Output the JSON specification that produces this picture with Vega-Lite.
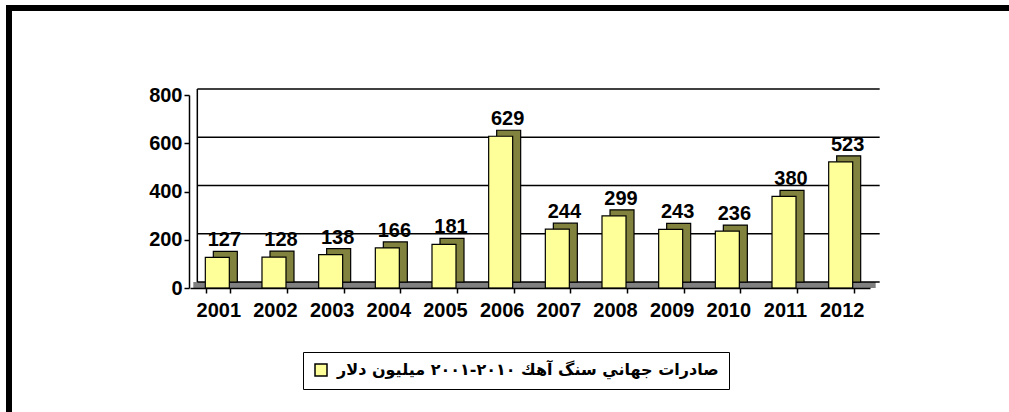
{
  "$schema": "https://vega.github.io/schema/vega-lite/v6.json",
  "width": 1000,
  "height": 404,
  "autosize": {"type": "none"},
  "padding": {"left": 9, "top": 8, "right": 0, "bottom": 0},
  "background": "white",
  "config": {
    "view": {"stroke": "black", "strokeWidth": 6, "strokeDash": [1000, 1404, 404], "strokeCap": "square"},
    "font": "Liberation Sans"
  },
  "datasets": {
    "exports": [
      {"year": "2001", "value": 127, "series": "صادرات جهاني سنگ آهك ٢٠١٠-٢٠٠١ ميليون دلار"},
      {"year": "2002", "value": 128, "series": "صادرات جهاني سنگ آهك ٢٠١٠-٢٠٠١ ميليون دلار"},
      {"year": "2003", "value": 138, "series": "صادرات جهاني سنگ آهك ٢٠١٠-٢٠٠١ ميليون دلار"},
      {"year": "2004", "value": 166, "series": "صادرات جهاني سنگ آهك ٢٠١٠-٢٠٠١ ميليون دلار"},
      {"year": "2005", "value": 181, "series": "صادرات جهاني سنگ آهك ٢٠١٠-٢٠٠١ ميليون دلار"},
      {"year": "2006", "value": 629, "series": "صادرات جهاني سنگ آهك ٢٠١٠-٢٠٠١ ميليون دلار"},
      {"year": "2007", "value": 244, "series": "صادرات جهاني سنگ آهك ٢٠١٠-٢٠٠١ ميليون دلار"},
      {"year": "2008", "value": 299, "series": "صادرات جهاني سنگ آهك ٢٠١٠-٢٠٠١ ميليون دلار"},
      {"year": "2009", "value": 243, "series": "صادرات جهاني سنگ آهك ٢٠١٠-٢٠٠١ ميليون دلار"},
      {"year": "2010", "value": 236, "series": "صادرات جهاني سنگ آهك ٢٠١٠-٢٠٠١ ميليون دلار"},
      {"year": "2011", "value": 380, "series": "صادرات جهاني سنگ آهك ٢٠١٠-٢٠٠١ ميليون دلار"},
      {"year": "2012", "value": 523, "series": "صادرات جهاني سنگ آهك ٢٠١٠-٢٠٠١ ميليون دلار"}
    ],
    "grid": [{"v": 0}, {"v": 200}, {"v": 400}, {"v": 600}, {"v": 800}]
  },
  "layer": [
    {
      "data": {"values": [{"floor": 0}]},
      "mark": {"type": "rule", "color": "#808080", "strokeWidth": 6, "xOffset": -25, "x2Offset": 34, "yOffset": -3, "y2Offset": -3},
      "encoding": {
        "x": {"datum": "2001", "type": "nominal",
          "scale": {"range": [181, 861], "paddingInner": 0.5765, "paddingOuter": 0.288},
          "axis": {
            "orient": "bottom", "offset": -124, "title": null, "labelAngle": 0,
            "labelFontSize": 20, "labelFontWeight": "bold", "labelColor": "black",
            "tickBand": "extent", "tickSize": 5, "tickColor": "black", "tickWidth": 1.5,
            "domainColor": "black", "domainWidth": 1.5, "labelPadding": 7, "grid": false, "zindex": 1
          }},
        "x2": {"datum": "2012"},
        "y": {"datum": 0, "type": "quantitative",
          "scale": {"domain": [0, 800], "range": [280, 87], "nice": false},
          "axis": {
            "orient": "left", "offset": -180, "values": [0, 200, 400, 600, 800], "title": null,
            "labelFontSize": 20, "labelFontWeight": "bold", "labelColor": "black",
            "tickSize": 5, "tickColor": "black", "tickWidth": 1.5,
            "domainColor": "black", "domainWidth": 1.5, "labelPadding": 2, "grid": false, "zindex": 1
          }}
      }
    },
    {
      "data": {"name": "grid"},
      "mark": {"type": "rule", "color": "black", "strokeWidth": 1.5, "xOffset": -21, "x2Offset": 38, "yOffset": -6, "y2Offset": -6},
      "encoding": {
        "x": {"datum": "2001", "type": "nominal"},
        "x2": {"datum": "2012"},
        "y": {"field": "v", "type": "quantitative", "title": null}
      }
    },
    {
      "data": {"values": [{"wall": 0}]},
      "mark": {"type": "rule", "color": "black", "strokeWidth": 1.5, "xOffset": -21, "yOffset": -6, "y2Offset": -6},
      "encoding": {
        "x": {"datum": "2001", "type": "nominal"},
        "y": {"datum": 0, "type": "quantitative"},
        "y2": {"datum": 800}
      }
    },
    {
      "data": {"name": "exports"},
      "mark": {"type": "bar", "fill": "#82823F", "stroke": "black", "strokeWidth": 1.2, "xOffset": 7, "yOffset": -6, "y2Offset": -6},
      "encoding": {
        "x": {"field": "year", "type": "nominal", "title": null},
        "y": {"field": "value", "type": "quantitative", "title": null}
      }
    },
    {
      "data": {"name": "exports"},
      "mark": {"type": "bar", "stroke": "black", "strokeWidth": 1.2, "xOffset": -1, "fillOpacity": 1},
      "encoding": {
        "x": {"field": "year", "type": "nominal", "title": null},
        "y": {"field": "value", "type": "quantitative", "title": null},
        "color": {
          "field": "series", "type": "nominal",
          "scale": {"range": ["#FFFF99"]},
          "legend": {
            "orient": "none", "legendX": 294, "legendY": 344, "title": null,
            "symbolType": "square", "symbolSize": 144, "symbolStrokeColor": "black", "symbolStrokeWidth": 1.5,
            "labelFontSize": 16, "labelFontWeight": "bold", "labelFont": "DejaVu Sans", "labelColor": "black",
            "labelLimit": 0, "strokeColor": "black", "fillColor": "white", "padding": 10, "labelOffset": 8
          }
        }
      }
    },
    {
      "data": {"name": "exports"},
      "mark": {"type": "text", "fontSize": 20, "fontWeight": "bold", "color": "black", "dx": 6, "dy": -11, "baseline": "alphabetic"},
      "encoding": {
        "x": {"field": "year", "type": "nominal", "title": null},
        "y": {"field": "value", "type": "quantitative", "title": null},
        "text": {"field": "value", "type": "quantitative"}
      }
    }
  ]
}
